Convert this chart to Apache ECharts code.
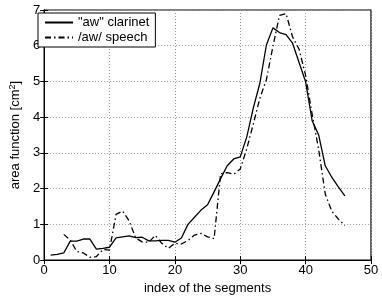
<!DOCTYPE html>
<html>
<head>
<meta charset="utf-8">
<script src="https://cdn.jsdelivr.net/npm/echarts@6/dist/echarts.min.js"></script>
<style>
  html, body { margin: 0; padding: 0; background: #fff; }
  #chart { width: 382px; height: 300px; }
</style>
</head>
<body>
<div id="chart"></div>
<script>
// segment index -> area (cm^2)
const clarinetX = [1,2,3,4,5,6,7,8,9,10,11,12,13,14,15,16,17,18,19,20,21,22,23,24,25,26,27,28,29,30,31,32,33,34,35,36,37,38,39,40,41,42,43,44,45,46];
const clarinetY = [0.14,0.16,0.2,0.53,0.53,0.59,0.59,0.31,0.33,0.36,0.62,0.65,0.68,0.63,0.64,0.54,0.54,0.55,0.55,0.5,0.62,1.0,1.2,1.4,1.55,1.91,2.28,2.64,2.83,2.89,3.45,4.26,4.95,6.02,6.5,6.37,6.31,6.07,5.53,4.99,3.9,3.5,2.64,2.32,2.05,1.8];
const speechX = [3,4,5,6,7,8,9,10,11,12,13,14,15,16,17,18,19,20,21,22,23,24,25,26,27,28,29,30,31,32,33,34,35,36,37,38,39,40,41,42,43,44,45,46];
const speechY = [0.72,0.56,0.24,0.2,0.08,0.1,0.3,0.28,1.28,1.37,1.1,0.62,0.51,0.5,0.69,0.47,0.33,0.47,0.45,0.55,0.7,0.75,0.65,0.6,2.42,2.45,2.4,2.55,3.12,3.81,4.53,5.05,5.98,6.85,6.9,6.25,5.9,5.17,4.08,3.09,1.85,1.37,1.15,0.97];
const seriesNames = ['"aw" clarinet', '/aw/ speech'];

const pair = (xs, ys) => xs.map((x, i) => [x, ys[i]]);
const font = 'Liberation Sans, Arial, sans-serif';
const gridLine = { show: true, lineStyle: { color: '#999', type: [1, 2], width: 1 } };
const tickLabel = { color: '#000', fontSize: 13, fontFamily: font };

const chart = echarts.init(document.getElementById('chart'));
chart.setOption({
  animation: false,
  grid: { left: 35, right: 11, top: 10, bottom: 33, show: true, borderColor: '#000', borderWidth: 1.2 },
  legend: {
    left: 38, top: 13, orient: 'vertical',
    backgroundColor: '#fff', borderColor: '#000', borderWidth: 1,
    padding: [3, 6, 3, 6], itemGap: 2, itemWidth: 28, itemHeight: 12,
    itemStyle: { opacity: 0 },
    textStyle: { color: '#000', fontSize: 13, fontFamily: font },
    data: seriesNames
  },
  xAxis: [{
    type: 'value', min: 0, max: 50, interval: 10,
    name: 'index of the segments', nameLocation: 'middle', nameGap: 18,
    nameTextStyle: { color: '#000', fontSize: 13, fontFamily: font },
    axisLine: { lineStyle: { color: '#000' } },
    axisTick: { inside: true, length: 4, lineStyle: { color: '#000' } },
    axisLabel: Object.assign({ margin: 4 }, tickLabel),
    splitLine: gridLine
  }, {
    type: 'value', position: 'top', min: 0, max: 50, interval: 10,
    axisLine: { lineStyle: { color: '#000' } },
    axisTick: { inside: true, length: 4, lineStyle: { color: '#000' } },
    axisLabel: { show: false }, splitLine: { show: false }
  }],
  yAxis: [{
    type: 'value', min: 0, max: 7, interval: 1,
    name: 'area function [cm{s|2}]', nameLocation: 'middle', nameGap: 19,
    nameTextStyle: {
      color: '#000', fontSize: 13, fontFamily: font,
      rich: { s: { fontSize: 9, verticalAlign: 'top', color: '#000', fontFamily: font, padding: [0, 0, 6, 0] } }
    },
    axisLine: { lineStyle: { color: '#000' } },
    axisTick: { inside: true, length: 4, lineStyle: { color: '#000' } },
    axisLabel: Object.assign({ margin: 4 }, tickLabel),
    splitLine: gridLine
  }, {
    type: 'value', position: 'right', min: 0, max: 7, interval: 1,
    axisLine: { show: true, lineStyle: { color: '#000' } },
    axisTick: { show: true, inside: true, length: 4, lineStyle: { color: '#000' } },
    axisLabel: { show: false }, splitLine: { show: false }
  }],
  series: [{
    name: seriesNames[0], type: 'line', symbol: 'none',
    data: pair(clarinetX, clarinetY),
    lineStyle: { color: '#000', width: 1.3, type: 'solid' },
    itemStyle: { color: '#000' }
  }, {
    name: seriesNames[1], type: 'line', symbol: 'none',
    data: pair(speechX, speechY),
    lineStyle: { color: '#000', width: 1.3, type: [6, 3, 1.5, 3] },
    itemStyle: { color: '#000' }
  }]
});
</script>
</body>
</html>
